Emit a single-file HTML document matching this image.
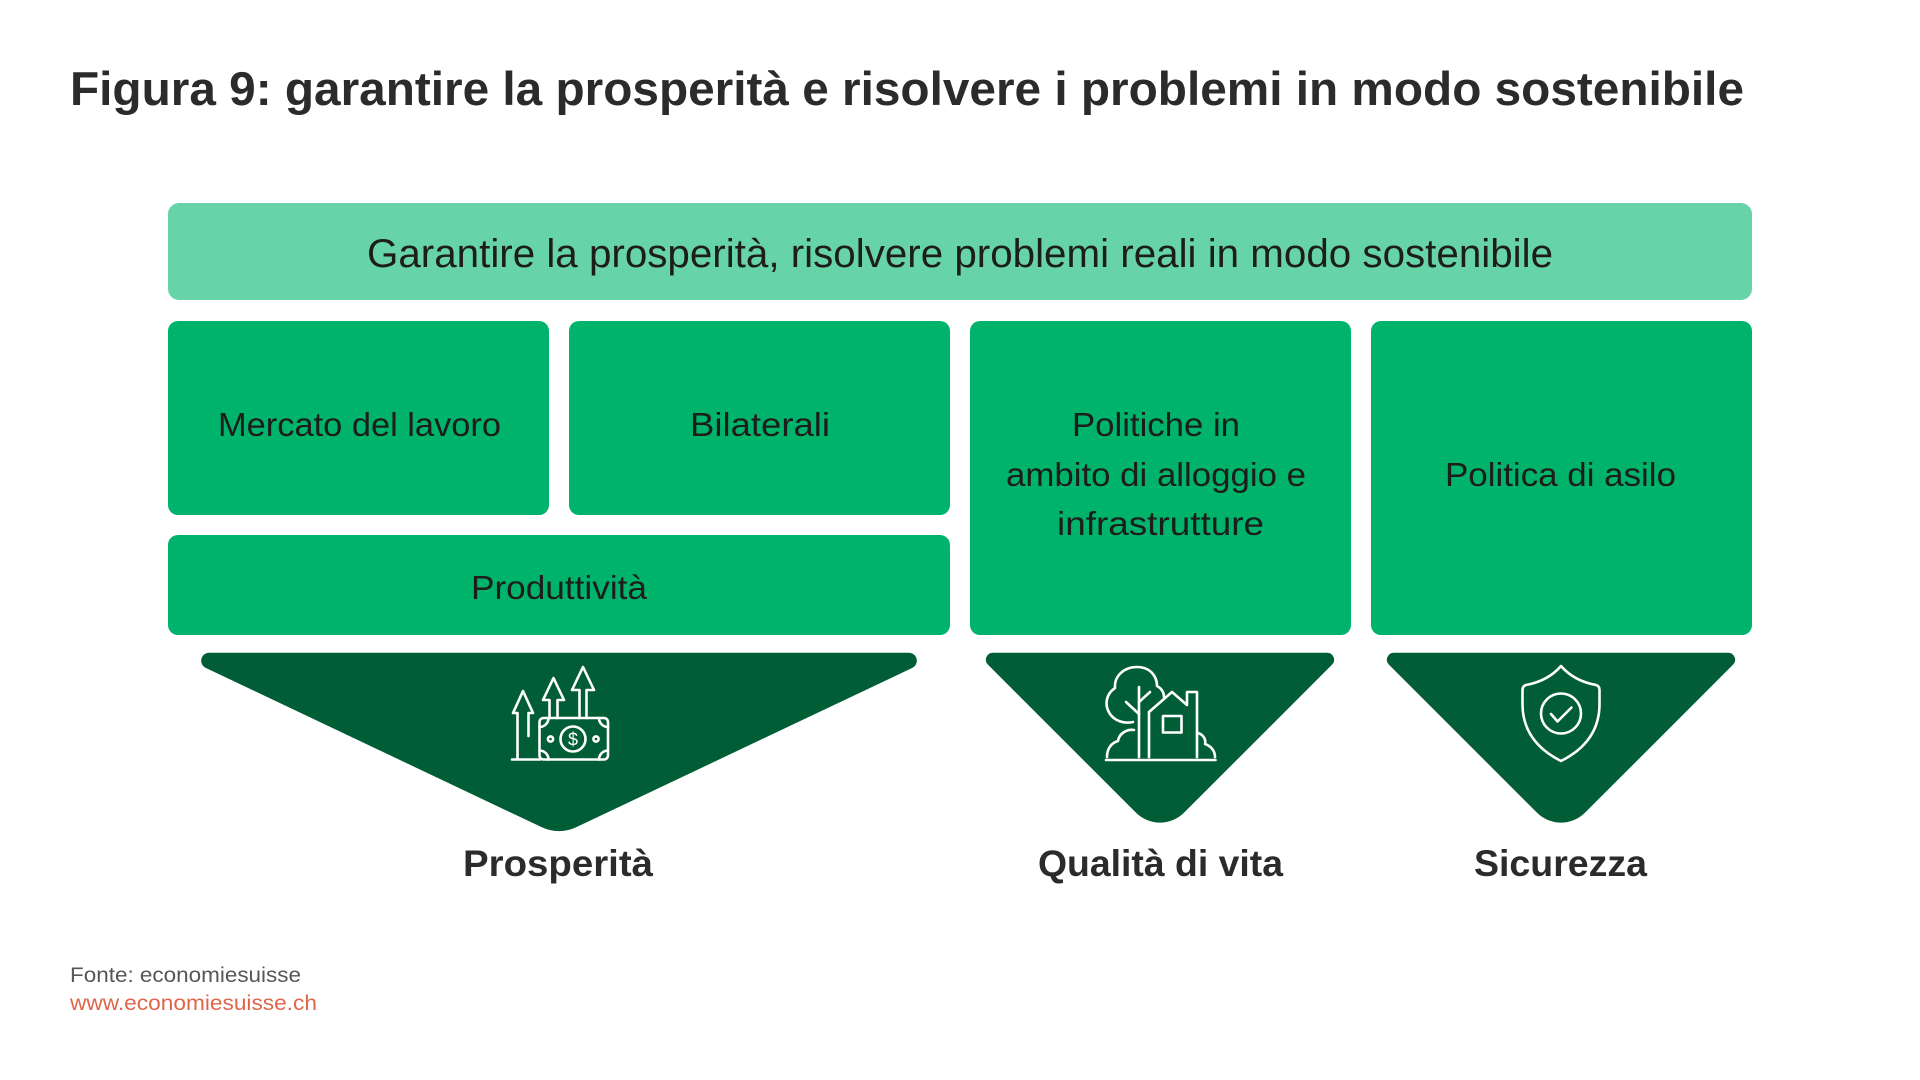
<!DOCTYPE html>
<html>
<head>
<meta charset="utf-8">
<style>
  html, body { margin:0; padding:0; background:#ffffff; }
  body { width:1920px; height:1080px; overflow:hidden; }
  svg { display:block; }
  .t { font-family:"Liberation Sans", Arial, sans-serif; }
</style>
</head>
<body>
<svg width="1920" height="1080" viewBox="0 0 1920 1080" xmlns="http://www.w3.org/2000/svg">
  <rect x="0" y="0" width="1920" height="1080" fill="#ffffff"/>

  <!-- Title -->
  <text class="t" x="70" y="105" font-size="47" font-weight="bold" fill="#2b2b2b" textLength="1674" lengthAdjust="spacingAndGlyphs">Figura 9: garantire la prosperità e risolvere i problemi in modo sostenibile</text>

  <!-- Top bar -->
  <rect x="168" y="203" width="1584" height="97" rx="11" fill="#66d4a7"/>
  <text class="t" x="367" y="267" font-size="40" fill="#1d1d1b" textLength="1186" lengthAdjust="spacingAndGlyphs">Garantire la prosperità, risolvere problemi reali in modo sostenibile</text>

  <!-- Boxes -->
  <rect x="168" y="321" width="381" height="194" rx="10" fill="#00b36b"/>
  <rect x="569" y="321" width="381" height="194" rx="10" fill="#00b36b"/>
  <rect x="970" y="321" width="381" height="314" rx="10" fill="#00b36b"/>
  <rect x="1371" y="321" width="381" height="314" rx="10" fill="#00b36b"/>
  <rect x="168" y="535" width="782" height="100" rx="10" fill="#00b36b"/>

  <text class="t" x="218" y="436" font-size="33" fill="#1d1d1b" textLength="283" lengthAdjust="spacingAndGlyphs">Mercato del lavoro</text>
  <text class="t" x="690" y="436" font-size="33" fill="#1d1d1b" textLength="140" lengthAdjust="spacingAndGlyphs">Bilaterali</text>
  <text class="t" x="1072" y="436" font-size="33" fill="#1d1d1b" textLength="168" lengthAdjust="spacingAndGlyphs">Politiche in</text>
  <text class="t" x="1006" y="486" font-size="33" fill="#1d1d1b" textLength="300" lengthAdjust="spacingAndGlyphs">ambito di alloggio e</text>
  <text class="t" x="1057" y="535" font-size="33" fill="#1d1d1b" textLength="207" lengthAdjust="spacingAndGlyphs">infrastrutture</text>
  <text class="t" x="1445" y="486" font-size="33" fill="#1d1d1b" textLength="231" lengthAdjust="spacingAndGlyphs">Politica di asilo</text>
  <text class="t" x="471" y="599" font-size="33" fill="#1d1d1b" textLength="176" lengthAdjust="spacingAndGlyphs">Produttività</text>

  <!-- Triangles -->
  <path d="M209.1,652.7 L908.9,652.7 A8,8 0 0 1 912.3,667.9 L576.1,827.3 A40,40 0 0 1 541.9,827.3 L205.7,667.9 A8,8 0 0 1 209.1,652.7 Z" fill="#005d35"/>
  <path d="M992.9,652.7 L1327.1,652.7 A7,7 0 0 1 1332.05,664.65 L1184.04,812.66 A34,34 0 0 1 1135.96,812.66 L987.95,664.65 A7,7 0 0 1 992.9,652.7 Z" fill="#005d35"/>
  <path d="M1393.9,652.7 L1728.1,652.7 A7,7 0 0 1 1733.05,664.65 L1585.04,812.66 A34,34 0 0 1 1536.96,812.66 L1388.95,664.65 A7,7 0 0 1 1393.9,652.7 Z" fill="#005d35"/>

  <!-- Money / growth icon -->
  <g fill="none" stroke="#ffffff" stroke-width="2.6" stroke-linejoin="round" stroke-linecap="round">
    <line x1="512" y1="759.5" x2="540" y2="759.5"/>
    <path d="M517.5,759 L517.5,713 L513,713 L523,691 L533,713 L528.5,713 L528.5,736"/>
    <path d="M549.5,718 L549.5,700 L543,700 L553.5,678 L564,700 L557.5,700 L557.5,718"/>
    <path d="M579.5,718 L579.5,690 L572,690 L583,667 L594,690 L586.5,690 L586.5,718"/>
    <rect x="539.5" y="718" width="68.5" height="41.5" rx="4"/>
    <path d="M539.5,727 A9,9 0 0 0 548.5,718"/>
    <path d="M599,718 A9,9 0 0 0 608,727"/>
    <path d="M608,750.5 A9,9 0 0 0 599,759.5"/>
    <path d="M548.5,759.5 A9,9 0 0 0 539.5,750.5"/>
    <circle cx="573" cy="739" r="12.5"/>
    <circle cx="550.5" cy="739" r="2.6"/>
    <circle cx="596" cy="739" r="2.6"/>
  </g>
  <text class="t" x="573" y="745.5" font-size="18" fill="#ffffff" text-anchor="middle">$</text>

  <!-- House & tree icon -->
  <g fill="none" stroke="#ffffff" stroke-width="2.6" stroke-linejoin="round" stroke-linecap="round">
    <line x1="1106" y1="760" x2="1215.5" y2="760"/>
    <!-- tree crown -->
    <path d="M1133,722 C1124,724 1115,721 1110,714 C1104,705 1106,694 1115,688 C1114,677 1123,667 1137,667 C1150,667 1157,676 1157,686 C1161,688 1164,692 1164,697"/>
    <!-- trunk -->
    <line x1="1139" y1="687" x2="1139" y2="757"/>
    <line x1="1126" y1="702" x2="1139" y2="714"/>
    <line x1="1150" y1="692" x2="1139" y2="702"/>
    <!-- house -->
    <path d="M1149,757 L1149,712 L1172,692 L1187,705 L1187,692 L1197,692 L1197,757"/>
    <rect x="1163" y="716" width="18.5" height="16.5"/>
    <!-- left bush -->
    <path d="M1107,757 C1107,749 1111,743 1118,741 C1119,734 1126,729 1134,730"/>
    <!-- right bush -->
    <path d="M1198,733 C1204,735 1206,740 1205,744 C1211,746 1215,751 1215,757"/>
  </g>

  <!-- Shield icon -->
  <g fill="none" stroke="#ffffff" stroke-width="2.6" stroke-linejoin="round" stroke-linecap="round">
    <path d="M1561,666 Q1548,681 1526,685 Q1522.5,686 1522.5,690 L1522.5,705 Q1523,742 1561,761 Q1599,742 1599.5,705 L1599.5,690 Q1599.5,686 1596,685 Q1574,681 1561,666 Z"/>
    <circle cx="1561" cy="713.5" r="20"/>
    <path d="M1551,714 L1557.5,721.5 L1571.5,707.5"/>
  </g>

  <!-- Bottom labels -->
  <text class="t" x="463" y="876" font-size="37" font-weight="bold" fill="#2b2b2b" textLength="190" lengthAdjust="spacingAndGlyphs">Prosperità</text>
  <text class="t" x="1038" y="876" font-size="37" font-weight="bold" fill="#2b2b2b" textLength="245" lengthAdjust="spacingAndGlyphs">Qualità di vita</text>
  <text class="t" x="1474" y="876" font-size="37" font-weight="bold" fill="#2b2b2b" textLength="173" lengthAdjust="spacingAndGlyphs">Sicurezza</text>

  <!-- Footer -->
  <text class="t" x="70" y="982" font-size="21" fill="#575756" textLength="231" lengthAdjust="spacingAndGlyphs">Fonte: economiesuisse</text>
  <text class="t" x="70" y="1010" font-size="21" fill="#e0664a" textLength="247" lengthAdjust="spacingAndGlyphs">www.economiesuisse.ch</text>
</svg>
</body>
</html>
